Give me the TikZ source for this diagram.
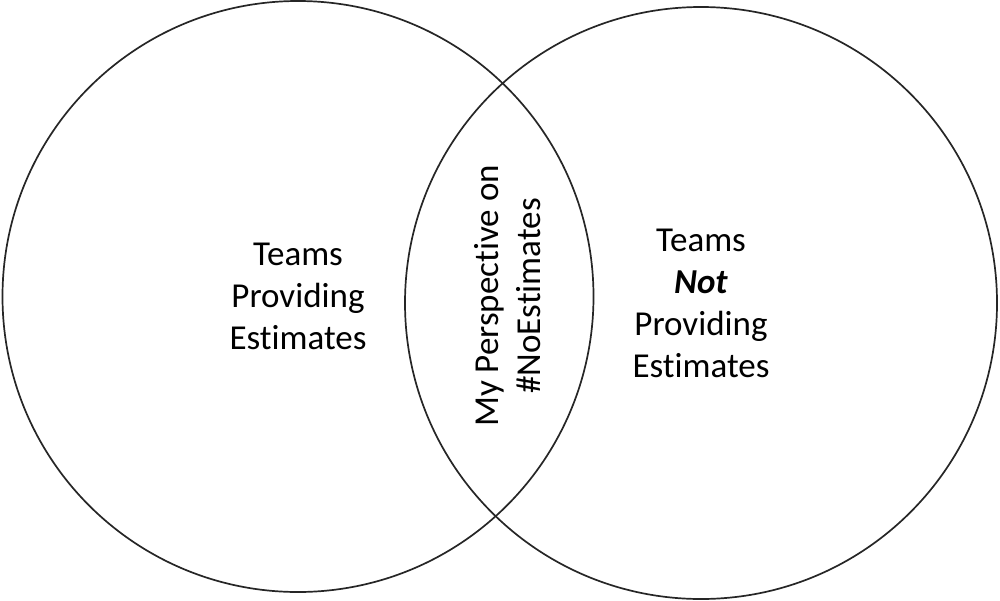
\documentclass[tikz,border=0pt]{standalone}
\usepackage{fontspec}
\setmainfont{Carlito}[Ligatures=NoCommon]

\begin{document}
\begin{tikzpicture}[
    x=1pt,
    y=-1pt,
    set/.style={circle, draw=black!85, line width=1.7pt, align=center},
    settext/.style={font=\fontsize{35}{42}\selectfont},
    ]
    \useasboundingbox (0,0) rectangle (1000,600);

    % the two sets
    \node[set, settext, minimum size=591pt] (estimating) at (298,296.5) {Teams\\Providing\\Estimates};
    \node[set, settext, minimum size=592pt] (notestimating) at (701,303) {Teams\\\textbf{\textit{Not}}\\Providing\\Estimates};

    % overlap
    \node[settext, rotate=90, align=center] (perspective) at (508,296) {My Perspective on\\\#NoEstimates};

\end{tikzpicture}
\end{document}
